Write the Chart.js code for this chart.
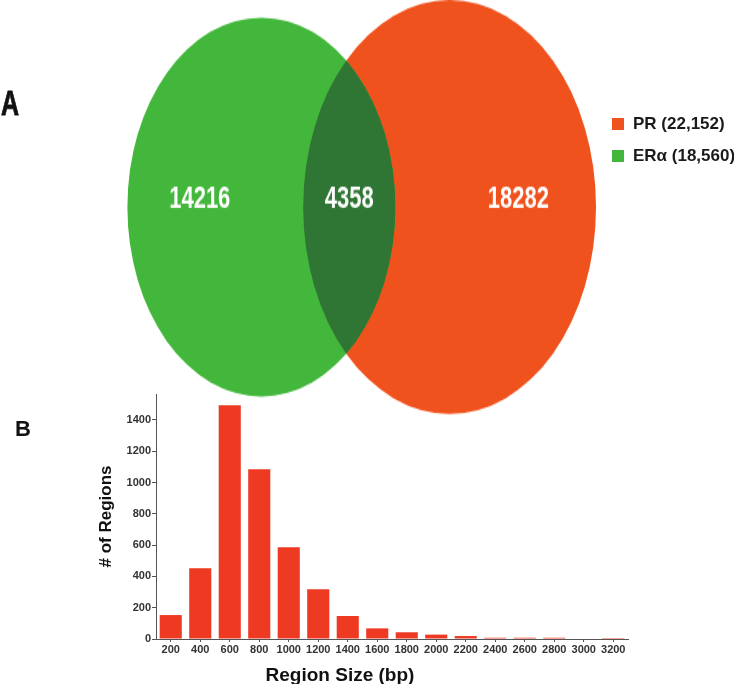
<!DOCTYPE html>
<html>
<head>
<meta charset="utf-8">
<script src="https://cdn.jsdelivr.net/npm/chart.js@4/dist/chart.umd.min.js"></script>
<style>
  body { margin: 0; width: 734px; height: 684px; position: relative; overflow: hidden; background: #fff;
         font-family: 'Liberation Sans', Arial, sans-serif; }
  .panel { position: absolute; font-weight: bold; color: #111; line-height: 1; }
  #vennWrap { position: absolute; left: 0; top: 0; width: 734px; height: 300px;
              transform: scaleY(1.414); transform-origin: 0 0; }
  #histWrap { position: absolute; left: 0; top: 380px; width: 734px; height: 304px; }
  .leg { position: absolute; left: 612px; height: 16px; line-height: 16px; font-size: 17px; font-weight: bold; color: #1a1a1a; white-space: nowrap; }
  .leg span { display: inline-block; width: 12px; height: 12px; margin-right: 9px; vertical-align: -1px; }
  #xTitle { position: absolute; left: 240px; top: 665px; width: 200px; text-align: center;
            font-family: 'Liberation Sans Narrow', 'Liberation Sans', sans-serif; font-weight: bold; font-size: 19px; line-height: 19px; color: #111; }
</style>
</head>
<body>
<div id="vennWrap">
  <canvas id="venn"></canvas>
  <div class="panel" style="left:1px; top:60px; font-size:25px; -webkit-text-stroke:0.6px #111">A</div>
</div>
<div id="legend"></div>
<div class="panel" style="left:15px; top:418px; font-size:22px">B</div>
<div id="histWrap"><canvas id="hist"></canvas></div>
<div id="xTitle">Region Size (bp)</div>

<script>
// panel A
const vennNames = ['PR', 'ERα'];
const vennTotals = [22152, 18560];
const vennShared = 4358;
const regionCounts = [14216, 4358, 18282]; // ERα only, both, PR only
const vennColors = ['#f0521d', '#43b73b'];
const lensColor = '#2f7534';

// panel B
const sizeLabels = ['200', '400', '600', '800', '1000', '1200', '1400', '1600',
                    '1800', '2000', '2200', '2400', '2600', '2800', '3000', '3200'];
const regionFreq = [153, 452, 1494, 1085, 586, 318, 147, 68, 43, 28, 19, 8, 8, 8, 0, 6];
const freqTicks = [0, 200, 400, 600, 800, 1000, 1200, 1400];

// area-proportional circles: radius from set size, distance from shared count
function lensArea(r1, r2, d) {
  if (d >= r1 + r2) return 0;
  if (d <= Math.abs(r1 - r2)) return Math.PI * Math.min(r1, r2) ** 2;
  const a1 = Math.acos((d * d + r1 * r1 - r2 * r2) / (2 * d * r1));
  const a2 = Math.acos((d * d + r2 * r2 - r1 * r1) / (2 * d * r2));
  const k = Math.sqrt((-d + r1 + r2) * (d + r1 - r2) * (d - r1 + r2) * (d + r1 + r2));
  return r1 * r1 * a1 + r2 * r2 * a2 - 0.5 * k;
}
const radii = vennTotals.map(v => Math.sqrt(v / Math.PI));
let lo = Math.abs(radii[0] - radii[1]), hi = radii[0] + radii[1];
for (let i = 0; i < 60; i++) {
  const mid = (lo + hi) / 2;
  if (lensArea(radii[0], radii[1], mid) > vennShared) lo = mid; else hi = mid;
}
const dist = (lo + hi) / 2;

const ppu = 1.7434; // pixels per unit
const venn = new Chart(document.getElementById('venn'), {
  type: 'bubble',
  data: {
    datasets: [
      { label: vennNames[0], data: [{ x: dist / 2, y: 0, r: radii[0] * ppu }], backgroundColor: vennColors[0], order: 2 },
      { label: vennNames[1], data: [{ x: -dist / 2, y: 0, r: radii[1] * ppu }], backgroundColor: vennColors[1], order: 1 },
      { label: 'both', data: [{ x: -dist / 2, y: 0, r: radii[1] * ppu }], backgroundColor: lensColor, order: 0 }
    ]
  },
  options: {
    animation: false,
    responsive: true,
    maintainAspectRatio: false,
    events: [],
    elements: { point: { borderWidth: 0 } },
    layout: { padding: 0, autoPadding: false },
    plugins: { legend: { display: false }, tooltip: { enabled: false } },
    datasets: { bubble: { clip: false } },
    scales: {
      x: { display: false, min: -355.5 / ppu, max: (734 - 355.5) / ppu },
      y: { display: false, min: -(300 - 146.4) / ppu, max: 146.4 / ppu }
    }
  },
  plugins: [{
    id: 'vennRegions',
    beforeDatasetDraw(chart, args) {
      if (args.index !== 2) return;
      const pr = chart.getDatasetMeta(0).data[0];
      const ctx = chart.ctx;
      ctx.save();
      ctx.beginPath();
      ctx.arc(pr.x, pr.y, pr.options.radius, 0, Math.PI * 2);
      ctx.clip();
    },
    afterDatasetDraw(chart, args) {
      if (args.index === 2) chart.ctx.restore();
    },
    afterDatasetsDraw(chart) {
      const pr = chart.getDatasetMeta(0).data[0];
      const er = chart.getDatasetMeta(1).data[0];
      const ctx = chart.ctx;
      const xs = [
        er.x - 0.46 * er.options.radius,
        ((pr.x - pr.options.radius) + (er.x + er.options.radius)) / 2,
        pr.x + 0.47 * pr.options.radius
      ];
      ctx.save();
      ctx.font = 'bold 22px "Liberation Sans"';
      ctx.fillStyle = '#fff';
      ctx.textAlign = 'center';
      ctx.textBaseline = 'middle';
      regionCounts.forEach((c, i) => ctx.fillText(String(c), xs[i], er.y - 5));
      ctx.restore();
    }
  }]
});

// legend
const legend = document.getElementById('legend');
vennNames.forEach((name, i) => {
  const row = document.createElement('div');
  row.className = 'leg';
  row.style.top = (116 + i * 32) + 'px';
  row.innerHTML = '<span style="background:' + vennColors[i] + '"></span>' +
    name + ' (' + vennTotals[i].toLocaleString('en-US') + ')';
  legend.appendChild(row);
});

const hist = new Chart(document.getElementById('hist'), {
  type: 'bar',
  data: {
    labels: sizeLabels,
    datasets: [{
      data: regionFreq,
      backgroundColor: '#ef3a23',
      barPercentage: 0.75,
      categoryPercentage: 1
    }]
  },
  options: {
    animation: false,
    responsive: true,
    maintainAspectRatio: false,
    events: [],
    layout: { padding: { left: 90, right: 106, top: 14, bottom: 0 } },
    plugins: { legend: { display: false }, tooltip: { enabled: false } },
    scales: {
      x: {
        grid: { drawOnChartArea: false, offset: false, tickLength: 3, color: '#555' },
        border: { color: '#555' },
        ticks: { color: '#333', font: { size: 11, weight: 'bold' }, padding: 1, maxRotation: 0, autoSkip: false },
        afterFit: s => { s.height = 45; }
      },
      y: {
        min: 0,
        max: 1566,
        grid: { drawOnChartArea: false, tickLength: 4, color: '#555' },
        border: { color: '#555' },
        ticks: { color: '#333', font: { size: 11, weight: 'bold' }, padding: 1, callback: v => String(v) },
        afterBuildTicks: s => { s.ticks = freqTicks.map(v => ({ value: v })); },
        title: { display: true, text: '# of Regions', color: '#111', font: { size: 17, weight: 'bold' }, padding: { top: 6, bottom: 0 } },
        afterFit: s => { s.width = 66; }
      }
    }
  }
});
</script>
</body>
</html>
